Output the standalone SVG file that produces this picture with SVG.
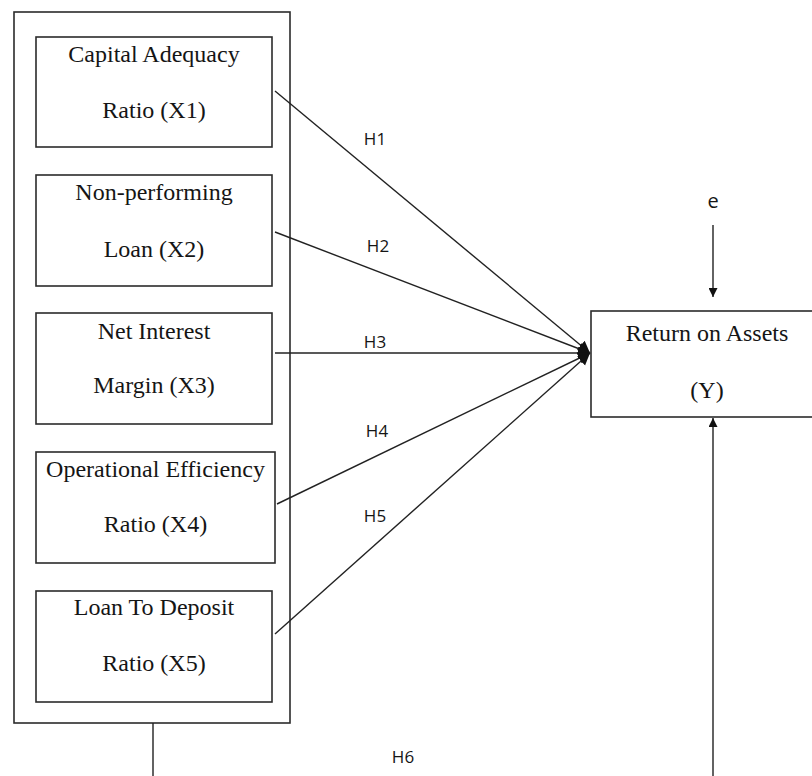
<svg xmlns="http://www.w3.org/2000/svg" width="812" height="776" viewBox="0 0 812 776">
<style>
.box{fill:#fff;stroke:#2b2b2b;stroke-width:1.6}
.t{font-family:"Liberation Serif","Times New Roman",serif;font-size:24px;fill:#151515;text-anchor:middle}
.h{font-family:"Open Sans","DejaVu Sans",sans-serif;font-size:17px;fill:#151515;text-anchor:middle}
.c{fill:none;stroke:#222;stroke-width:1.4}
</style>
<defs>
<marker id="ah" viewBox="0 0 10 10" refX="10" refY="5" markerWidth="10" markerHeight="9" markerUnits="userSpaceOnUse" orient="auto">
<path d="M0,0 L10,5 L0,10 z" fill="#111"/>
</marker>
<marker id="ahs" viewBox="0 0 10 10" refX="10" refY="5" markerWidth="12" markerHeight="14" markerUnits="userSpaceOnUse" orient="auto">
<path d="M0,0 L10,5 L0,10 z" fill="#111"/>
</marker>
</defs>
<rect width="812" height="776" fill="#fff"/>
<g id="group_x">
<rect class="box" x="14" y="12" width="276" height="711"/>
</g>
<g id="x1">
<rect class="box" x="36" y="37" width="236" height="110"/>
<text class="t" x="154" y="62">Capital Adequacy</text>
<text class="t" x="154" y="118">Ratio (X1)</text>
</g>
<g id="x2">
<rect class="box" x="36" y="175" width="236" height="111"/>
<text class="t" x="154" y="200">Non-performing</text>
<text class="t" x="154" y="257">Loan (X2)</text>
</g>
<g id="x3">
<rect class="box" x="36" y="313" width="236" height="111"/>
<text class="t" x="154" y="339">Net Interest</text>
<text class="t" x="154" y="393">Margin (X3)</text>
</g>
<g id="x4">
<rect class="box" x="36" y="452" width="239" height="111"/>
<text class="t" x="155.5" y="477">Operational Efficiency</text>
<text class="t" x="155.5" y="532">Ratio (X4)</text>
</g>
<g id="x5">
<rect class="box" x="36" y="591" width="236" height="111"/>
<text class="t" x="154" y="615">Loan To Deposit</text>
<text class="t" x="154" y="671">Ratio (X5)</text>
</g>
<g id="y">
<rect class="box" x="591" y="311" width="240" height="106"/>
<text class="t" x="707" y="341">Return on Assets</text>
<text class="t" x="707" y="398">(Y)</text>
</g>
<g id="error">
<text class="h" x="713" y="208" style="font-size:20px">e</text>
</g>
<g id="connectors">
<line class="c" x1="275" y1="91" x2="590" y2="353" marker-end="url(#ahs)"/>
<line class="c" x1="275" y1="232" x2="590" y2="353" marker-end="url(#ahs)"/>
<line class="c" x1="275" y1="353" x2="590" y2="353" marker-end="url(#ahs)"/>
<line class="c" x1="277" y1="504" x2="590" y2="353" marker-end="url(#ahs)"/>
<line class="c" x1="275" y1="634" x2="590" y2="353" marker-end="url(#ahs)"/>
<line class="c" x1="713" y1="225" x2="713" y2="297" marker-end="url(#ah)"/>
<path class="c" d="M153,723 V800 H713 V418" marker-end="url(#ah)"/>
<text class="h" x="375" y="145">H1</text>
<text class="h" x="378" y="252">H2</text>
<text class="h" x="375" y="348">H3</text>
<text class="h" x="377" y="437">H4</text>
<text class="h" x="375" y="522">H5</text>
<text class="h" x="403" y="763">H6</text>
</g>
</svg>
